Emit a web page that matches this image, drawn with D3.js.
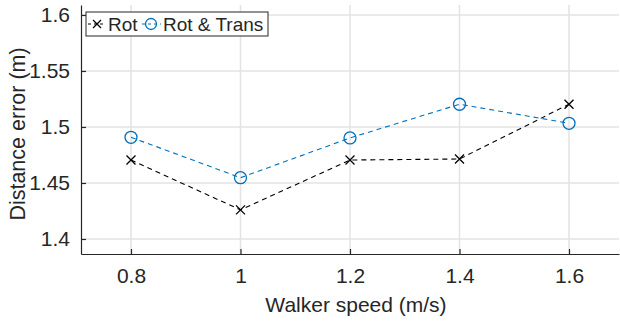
<!DOCTYPE html>
<html>
<head>
<meta charset="utf-8">
<script src="https://cdn.jsdelivr.net/npm/d3@7"></script>
<style>
  body { margin: 0; background: #fff; }
  text { font-family: 'Liberation Sans', Arial, Helvetica, sans-serif; fill: #262626; }
</style>
</head>
<body>
<div id="graph"></div>
<script>
// walker speed vs distance error
var speeds = [0.8, 1.0, 1.2, 1.4, 1.6]
var rotErr = [1.4705, 1.426, 1.4705, 1.4714, 1.5203]
var rotTransErr = [1.4908, 1.4547, 1.4902, 1.5203, 1.5033]
var xTicks = [0.8, 1, 1.2, 1.4, 1.6]
var yTicks = [1.4, 1.45, 1.5, 1.55, 1.6]
var seriesNames = ['Rot', 'Rot & Trans']

var width = 620, height = 322
var margin = {top: 5, left: 81, right: 1, bottom: 68}
var innerW = width - margin.left - margin.right
var innerH = height - margin.top - margin.bottom
var font = "'Liberation Sans', Arial, Helvetica, sans-serif"

var svg = d3.select('#graph').append('svg')
  .attr('width', width).attr('height', height)

var g = svg.append('g').attr('transform', `translate(${margin.left},${margin.top})`)

var x = d3.scaleLinear().domain([0.7087, 1.6913]).range([0, innerW])
var y = d3.scaleLinear().domain([1.3866, 1.6089]).range([innerH, 0])

// grid
g.selectAll('line.gx').data(xTicks).join('line')
  .attr('x1', d => x(d)).attr('x2', d => x(d))
  .attr('y1', 0).attr('y2', innerH)
  .attr('stroke', '#e3e3e3').attr('stroke-width', 1.5)
g.selectAll('line.gy').data(yTicks).join('line')
  .attr('y1', d => y(d)).attr('y2', d => y(d))
  .attr('x1', 0).attr('x2', innerW)
  .attr('stroke', '#e3e3e3').attr('stroke-width', 1.5)

// axes (ticks point inside like matlab)
var xAxis = d3.axisBottom(x).tickValues(xTicks).tickSizeInner(-5).tickSizeOuter(0)
  .tickPadding(14).tickFormat(d3.format('~g'))
var yAxis = d3.axisLeft(y).tickValues(yTicks).tickSizeInner(-5).tickSizeOuter(0)
  .tickPadding(11).tickFormat(d3.format('~g'))

var gx = g.append('g').attr('transform', `translate(0,${innerH})`).call(xAxis)
var gy = g.append('g').call(yAxis)
;[gx, gy].forEach(a => {
  a.attr('font-family', font).attr('font-size', 21)
  a.select('.domain').attr('stroke', '#262626').attr('stroke-width', 1.2)
  a.selectAll('.tick line').attr('stroke', '#262626').attr('stroke-width', 1.2)
  a.selectAll('.tick text').attr('fill', '#262626')
})

svg.append('text')
  .attr('x', 356).attr('y', 312)
  .attr('text-anchor', 'middle').attr('font-size', 21)
  .text('Walker speed (m/s)')
svg.append('text')
  .attr('transform', `translate(25,134) rotate(-90)`)
  .attr('text-anchor', 'middle').attr('font-size', 21.5)
  .text('Distance error (m)')

var line = d3.line().x((d, i) => x(speeds[i])).y(d => y(d))

var blue = '#0072BD'

g.append('path').datum(rotErr)
  .attr('d', line).attr('fill', 'none').attr('stroke', '#000')
  .attr('stroke-width', 1.1).attr('stroke-dasharray', '5,4')
g.append('path').datum(rotTransErr)
  .attr('d', line).attr('fill', 'none').attr('stroke', blue)
  .attr('stroke-width', 1.1).attr('stroke-dasharray', '5,4')

function cross(sel, cx, cy, r){
  sel.append('path')
    .attr('d', `M${cx - r},${cy - r}L${cx + r},${cy + r}M${cx - r},${cy + r}L${cx + r},${cy - r}`)
    .attr('stroke', '#000').attr('stroke-width', 1.3).attr('fill', 'none')
}

rotErr.forEach((d, i) => cross(g, x(speeds[i]), y(d), 4.5))

g.selectAll('circle.rt').data(rotTransErr).join('circle')
  .attr('cx', (d, i) => x(speeds[i])).attr('cy', d => y(d)).attr('r', 6)
  .attr('fill', 'none').attr('stroke', blue).attr('stroke-width', 1.3)

// legend
var lg = svg.append('g')
lg.append('rect').attr('x', 86).attr('y', 12).attr('width', 182).attr('height', 24)
  .attr('fill', '#fff').attr('stroke', '#262626').attr('stroke-width', 1)

lg.append('line').attr('x1', 88).attr('x2', 106).attr('y1', 24).attr('y2', 24)
  .attr('stroke', '#000').attr('stroke-width', 1.1).attr('stroke-dasharray', '3,3')
cross(lg, 97, 24, 4)
lg.append('text').attr('x', 108).attr('y', 31).attr('font-size', 19).text(seriesNames[0])

lg.append('line').attr('x1', 142).attr('x2', 161).attr('y1', 24).attr('y2', 24)
  .attr('stroke', blue).attr('stroke-width', 1.1).attr('stroke-dasharray', '3,3')
lg.append('circle').attr('cx', 151).attr('cy', 24).attr('r', 5.5)
  .attr('fill', 'none').attr('stroke', blue).attr('stroke-width', 1.3)
lg.append('text').attr('x', 163).attr('y', 31).attr('font-size', 19).text(seriesNames[1])
</script>
</body>
</html>
